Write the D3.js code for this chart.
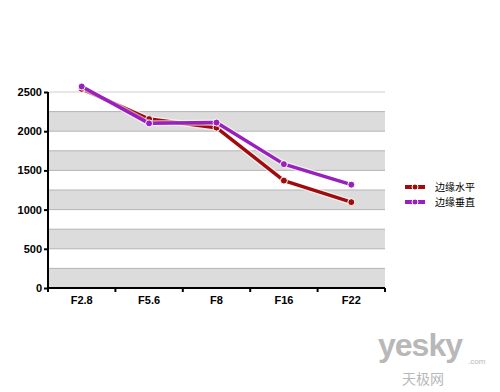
<!DOCTYPE html>
<html>
<head>
<meta charset="utf-8">
<script src="https://cdn.jsdelivr.net/npm/d3@7"></script>
<style>
  body { margin: 0; background: #fff; }
  svg { display: block; }
  .axis text { font-family: Arial, "Liberation Sans", sans-serif; font-weight: bold; font-size: 11px; fill: #000; }
  .legend text { font-family: "Noto Sans CJK SC", sans-serif; font-size: 10px; fill: #000; }
</style>
</head>
<body>
<svg id="chart"></svg>
<script>
// data
const categories = ["F2.8", "F5.6", "F8", "F16", "F22"];
const horizontal = [2540, 2155, 2045, 1370, 1095];
const vertical = [2570, 2100, 2110, 1580, 1318];
const seriesNames = ["边缘水平", "边缘垂直"];
const seriesColors = ["#a20b0b", "#9a1fbf"];
const yTicks = [0, 500, 1000, 1500, 2000, 2500];

const width = 500, height = 392;
const plotLeft = 48, plotRight = 385, plotTop = 92, plotBottom = 288;

const svg = d3.select("#chart").attr("width", width).attr("height", height);

const x = d3.scaleBand().domain(categories).range([plotLeft, plotRight]);
const y = d3.scaleLinear().domain([0, 2500]).range([plotBottom, plotTop]);

// alternating grey bands every 250
const bands = d3.range(0, 2500, 250).filter((d, i) => i % 2 === 0);
svg.append("g")
  .selectAll("rect")
  .data(bands)
  .join("rect")
  .attr("x", plotLeft)
  .attr("y", (d) => y(d + 250))
  .attr("width", plotRight - plotLeft)
  .attr("height", (d) => y(d) - y(d + 250))
  .attr("fill", "#dcdcdc");

// grid lines
svg.append("g")
  .selectAll("line")
  .data(d3.range(250, 2501, 250))
  .join("line")
  .attr("x1", plotLeft)
  .attr("x2", plotRight)
  .attr("y1", (d) => y(d))
  .attr("y2", (d) => y(d))
  .attr("stroke", (d) => (d === 2500 ? "#cfcfcf" : "#b4b4b4"))
  .attr("stroke-width", 1);

// y axis
svg.append("g")
  .attr("class", "axis")
  .attr("transform", `translate(${plotLeft},0)`)
  .call(d3.axisLeft(y).tickValues(yTicks).tickFormat(d3.format("d")).tickSize(4).tickPadding(2))
  .call((g) => g.select(".domain").attr("stroke", "#000").attr("stroke-width", 2).attr("d", `M0,${plotBottom}V${plotTop}`))
  .call((g) => g.selectAll(".tick line").attr("stroke", "#000").attr("stroke-width", 2));

// x axis
const xAxis = svg.append("g")
  .attr("class", "axis")
  .attr("transform", `translate(0,${plotBottom})`)
  .call(d3.axisBottom(x).tickSize(0).tickPadding(8))
  .call((g) => g.select(".domain").attr("stroke", "#000").attr("stroke-width", 2).attr("d", `M${plotLeft},0H${plotRight}`));

xAxis.selectAll(".sep")
  .data(categories.concat(["end"]))
  .join("line")
  .attr("class", "sep")
  .attr("x1", (d, i) => plotLeft + i * x.bandwidth())
  .attr("x2", (d, i) => plotLeft + i * x.bandwidth())
  .attr("y1", 0)
  .attr("y2", 4)
  .attr("stroke", "#000")
  .attr("stroke-width", 2);

// lines
const line = d3.line()
  .x((d, i) => x(categories[i]) + x.bandwidth() / 2)
  .y((d) => y(d));

[horizontal, vertical].forEach((vals, s) => {
  const g = svg.append("g");
  g.append("path")
    .datum(vals)
    .attr("d", line)
    .attr("fill", "none")
    .attr("stroke", "#fff")
    .attr("stroke-opacity", 0.6)
    .attr("stroke-width", 6)
    .attr("stroke-linejoin", "round");
  g.append("path")
    .datum(vals)
    .attr("d", line)
    .attr("fill", "none")
    .attr("stroke", seriesColors[s])
    .attr("stroke-width", 3.5)
    .attr("stroke-linejoin", "round");
  g.selectAll("circle")
    .data(vals)
    .join("circle")
    .attr("cx", (d, i) => x(categories[i]) + x.bandwidth() / 2)
    .attr("cy", (d) => y(d))
    .attr("r", 3.5)
    .attr("fill", seriesColors[s])
    .attr("stroke", "#fff")
    .attr("stroke-width", 1);
});

// legend
const legend = svg.append("g").attr("class", "legend").attr("transform", "translate(405,187)");
seriesNames.forEach((name, i) => {
  const row = legend.append("g").attr("transform", `translate(0,${i * 15})`);
  row.append("line").attr("x1", 0).attr("x2", 20).attr("y1", 0).attr("y2", 0)
    .attr("stroke", seriesColors[i]).attr("stroke-width", 4);
  row.append("circle").attr("cx", 10).attr("cy", 0).attr("r", 3)
    .attr("fill", seriesColors[i]).attr("stroke", "#fff").attr("stroke-width", 1);
  row.append("text").attr("x", 30).attr("y", 4).text(name);
});

// watermark
const wm = svg.append("g").attr("fill", "#b8b8b8");
wm.append("text").attr("x", 378).attr("y", 356)
  .style("font-family", "Arial, sans-serif").style("font-weight", "bold").style("font-size", "32px")
  .style("letter-spacing", "-1px").text("yesky");
wm.append("text").attr("x", 468).attr("y", 364)
  .style("font-family", "Arial, sans-serif").style("font-size", "8px").text(".com");
wm.append("text").attr("x", 402).attr("y", 384)
  .style("font-family", "Noto Sans CJK SC, sans-serif").style("font-size", "14px").text("天极网");
</script>
</body>
</html>
